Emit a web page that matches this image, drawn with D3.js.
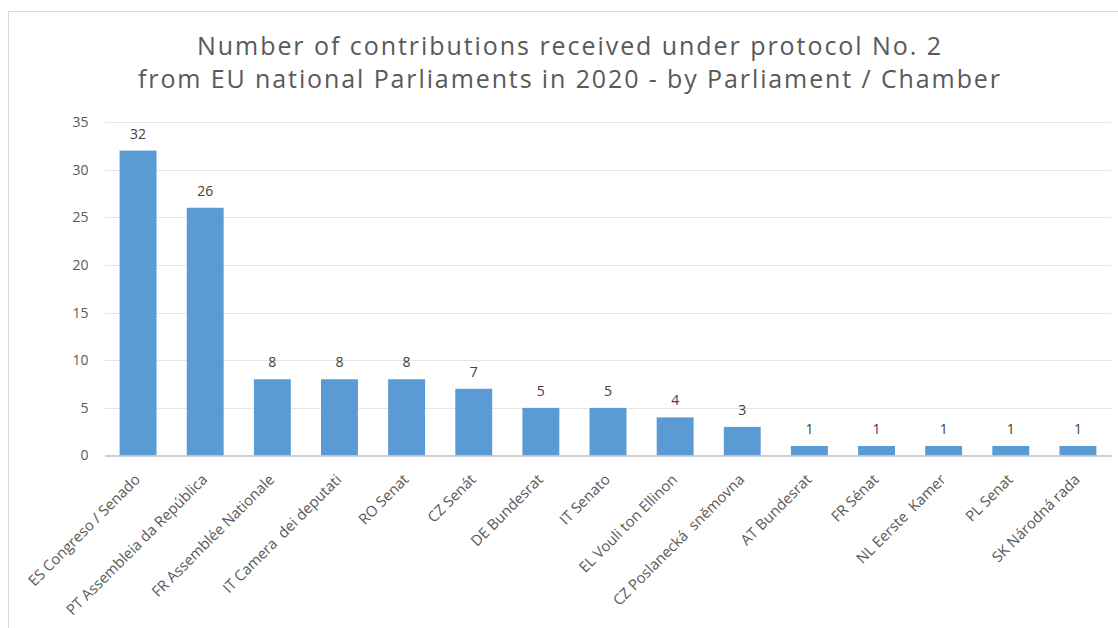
<!DOCTYPE html>
<html><head><meta charset="utf-8">
<script src="https://cdn.jsdelivr.net/npm/d3@7"></script>
<style>
html,body{margin:0;padding:0;background:#fff;}
svg{display:block;font-family:"Open Sans",sans-serif;}
text{white-space:pre;}
</style></head>
<body><svg id="c" width="1118" height="628"></svg>
<script>
const categories = ["ES Congreso / Senado","PT Assembleia da República","FR Assemblée Nationale","IT Camera  dei deputati","RO Senat","CZ Senát","DE Bundesrat","IT Senato","EL Vouli ton Ellinon","CZ Poslanecká  sněmovna","AT Bundesrat","FR Sénat","NL Eerste  Kamer","PL Senat","SK Národná rada"];
const values = [32,26,8,8,8,7,5,5,4,3,1,1,1,1,1];
const yTicks = [0,5,10,15,20,25,30,35];
const titleLines = ["Number of contributions received under protocol No. 2","from EU national Parliaments in 2020 - by Parliament / Chamber"];

(function(){
const svg = d3.select("#c");
svg.append("rect").attr("x",8.5).attr("y",11.5).attr("width",1130).attr("height",640)
  .attr("fill","#fff").attr("stroke","#d9d9d9").attr("stroke-width",1);

const pLeft=104.5, pRight=1111.5, pTop=122, pBottom=455.5;
const x = d3.scaleBand().domain(categories).range([pLeft,pRight]).paddingInner(0.45).paddingOuter(0.225);
const y = d3.scaleLinear().domain([0,35]).range([pBottom,pTop]);

// title
const tw=[744,862];
titleLines.forEach((t,i)=>{
  svg.append("text").attr("x",569).attr("y",55+i*33).attr("text-anchor","middle")
    .attr("font-size",25).attr("fill","#595959").attr("textLength",tw[i]).attr("lengthAdjust","spacing").text(t);
});

// gridlines
svg.append("g").selectAll("line").data(yTicks.filter(d=>d>0)).join("line")
  .attr("x1",pLeft).attr("x2",pRight).attr("y1",d=>Math.round(y(d))+0.5).attr("y2",d=>Math.round(y(d))+0.5)
  .attr("stroke","#e6e6e6").attr("stroke-width",1);

// y axis labels
const ya = svg.append("g").attr("transform",`translate(${pLeft},0)`)
  .call(d3.axisLeft(y).tickValues(yTicks).tickSize(0).tickPadding(16));
ya.select(".domain").remove();
ya.selectAll("text").attr("font-size",14).attr("fill","#595959").attr("font-family","'Open Sans',sans-serif");

// bars
svg.append("g").selectAll("rect").data(values).join("rect")
  .attr("x",(d,i)=>x(categories[i])).attr("width",x.bandwidth())
  .attr("y",d=>y(d)).attr("height",d=>y(0)-y(d)).attr("fill","#5b9bd5");

// data labels
svg.append("g").selectAll("text").data(values).join("text")
  .attr("x",(d,i)=>x(categories[i])+x.bandwidth()/2).attr("y",d=>y(d)-12)
  .attr("text-anchor","middle").attr("font-size",14).attr("fill","#404040").text(d=>d);

// x axis
const xa = svg.append("g").attr("transform",`translate(0,${pBottom})`)
  .call(d3.axisBottom(x).tickSize(0).tickPadding(0));
xa.select(".domain").attr("stroke","#bfbfbf").attr("stroke-width",1.5);
xa.selectAll("text").attr("font-size",14.8).attr("fill","#595959").attr("font-family","'Open Sans',sans-serif")
  .attr("text-anchor","end").attr("dy",0).attr("y",0).attr("x",0)
  .attr("transform","translate(3,25) rotate(-45)");
})();
</script></body></html>
